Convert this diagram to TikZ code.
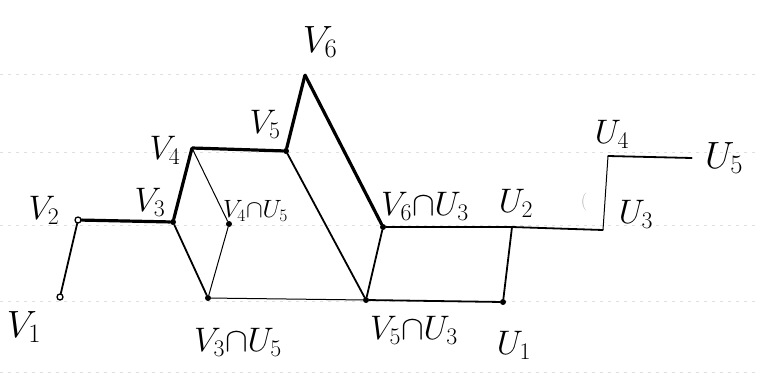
\RequirePackage{fix-cm}
\documentclass[tikz,border=0pt]{standalone}
\usetikzlibrary{calc}
\begin{document}
\begin{tikzpicture}[x=1pt,y=-1pt,
  pt/.style={circle,fill=black,inner sep=0pt,minimum size=6pt},
  ptopen/.style={circle,draw=black,fill=white,line width=1.3pt,inner sep=0pt,minimum size=6pt},
  corner/.style={inner sep=0pt,minimum size=0pt},
  thickedge/.style={line width=3.2pt,line cap=round,line join=round},
  midedge/.style={line width=1.8pt,line cap=round},
  thinedge/.style={line width=1.0pt,line cap=round},
  rule/.style={gray!25,line width=0.4pt,dash pattern=on 3pt off 5pt},
  biglab/.style={font=\fontsize{38}{38}\selectfont,inner sep=1pt},
  midlab/.style={font=\fontsize{34}{34}\selectfont,inner sep=1pt},
  smalllab/.style={font=\fontsize{25}{25}\selectfont,inner sep=1pt}]
\useasboundingbox (0,0) rectangle (759,381);
% ruled paper lines
\foreach \yy in {74,152,225,301,372}
  \draw[rule] (0,\yy) -- (759,\yy);
% vertices
\node[ptopen] (v1) at (60,297) {};
\node[ptopen] (v2) at (78,220) {};
\node[pt] (v3) at (173,222) {};
\node[corner] (v4) at (192,148) {};
\node[pt] (v5) at (286,151) {};
\node[corner] (v6) at (305,75) {};
\node[pt] (v4u5) at (229,224) {};
\node[pt] (v3u5) at (208,298) {};
\node[pt] (v6u3) at (383,227) {};
\node[pt] (v5u3) at (366,300) {};
\node[corner] (u2) at (512,227) {};
\node[pt] (u1) at (503,302) {};
\node[corner] (u3) at (603,230) {};
\node[corner] (u4) at (608,156) {};
\node[corner] (u5) at (692,158) {};
% edges
\draw[midedge] (v1) -- (v2);
\draw[thickedge] (v2) -- (v3) -- (v4) -- (v5) -- (v6);
\draw[thickedge] (v6) -- (v6u3);
\draw[midedge] (v5) -- (v5u3);
\draw[thinedge] (v4) -- (v4u5);
\draw[midedge] (v3) -- (v3u5);
\draw[thinedge] (v4u5) -- (v3u5);
\draw[thinedge] (v3u5) -- (v5u3);
\draw[midedge] (v6u3) -- (v5u3);
\draw[midedge] (v6u3) -- (u2);
\draw[midedge] (u2) -- (u3);
\draw[midedge] (u2) -- (u1);
\draw[midedge] (v5u3) -- (u1);
\draw[thinedge] (u3) -- (u4);
\draw[midedge] (u4) -- (u5);
% labels
\node[biglab] (l1) at (24,327) {$V_1$};
\node[midlab] (l2) at (44,210) {$V_2$};
\node[midlab] (l3) at (150,202) {$V_3$};
\node[midlab] (l4) at (165,150) {$V_4$};
\node[midlab] (l5) at (265,124) {$V_5$};
\node[biglab] (l6) at (320,42) {$V_6$};
\node[smalllab,anchor=west] (l45) at (222,211) {$V_4{\cap}U_5$};
\node[midlab] (l35) at (238,342) {$V_3{\cap}U_5$};
\node[midlab,anchor=west] (l63) at (380,206) {$V_6{\cap}U_3$};
\node[midlab] (l53) at (414,330) {$V_5{\cap}U_3$};
\node[midlab] (lu2) at (516,203) {$U_2$};
\node[midlab] (lu1) at (514,345) {$U_1$};
\node[midlab] (lu3) at (636,214) {$U_3$};
\node[midlab] (lu4) at (612,134) {$U_4$};
\node[biglab] (lu5) at (724,158) {$U_5$};
\node[font=\fontsize{18}{18}\selectfont,text=gray!60] (mark) at (584,202) {(};
\end{tikzpicture}
\end{document}
